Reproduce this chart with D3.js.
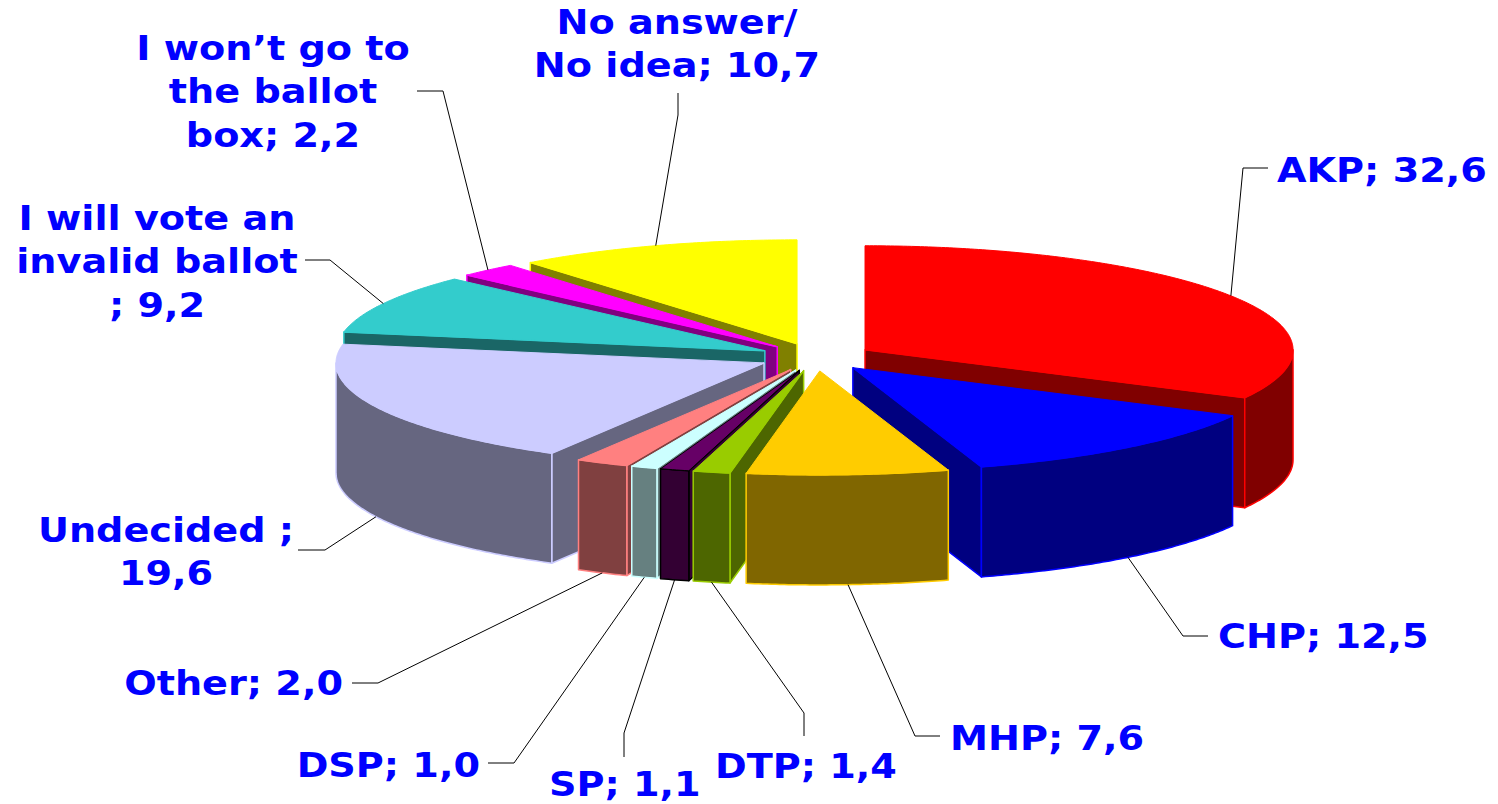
<!DOCTYPE html>
<html>
<head>
<meta charset="utf-8">
<script src="https://cdnjs.cloudflare.com/ajax/libs/d3/7.8.5/d3.min.js"></script>
<style>
    body { margin: 0; background: #ffffff; }
    text { font-family: "DejaVu Sans", Verdana, sans-serif; font-weight: bold; }
</style>
</head>
<body>
<div id="chart"></div>
<script>
// slice data, clockwise from 12 o'clock
var categories = ["AKP", "CHP", "MHP", "DTP", "SP", "DSP", "Other", "Undecided",
    "I will vote an invalid ballot", "I won’t go to the ballot box", "No answer/No idea"];
var values = [32.6, 12.5, 7.6, 1.4, 1.1, 1.0, 2.0, 19.6, 9.2, 2.2, 10.7];

// label text, {v} is replaced by the value with a decimal comma
var labelLines = [
    ["AKP; {v}"],
    ["CHP; {v}"],
    ["MHP; {v}"],
    ["DTP; {v}"],
    ["SP; {v}"],
    ["DSP; {v}"],
    ["Other; {v}"],
    ["Undecided ;", "{v}"],
    ["I will vote an", "invalid ballot", "; {v}"],
    ["I won’t go to", "the ballot", "box; {v}"],
    ["No answer/", "No idea; {v}"]
];

var topColors = ["#ff0000", "#0000ff", "#ffcc00", "#99cc00", "#660066", "#ccffff",
    "#ff8080", "#ccccff", "#33cccc", "#ff00ff", "#ffff00"];
var outlineColors = ["#ff0000", "#0000ff", "#ffcc00", "#99cc00", "#000000", "#ccffff",
    "#ff8080", "#ccccff", "#33cccc", "#ff00ff", "#ffff00"];

var width = 1498, height = 804;

// pie geometry (screen pixels)
var cx = 816, cy = 357;      // centre of the top face
var R = 428;                 // radius along x
var tilt = 0.243;            // y squash of the disc
var depth = 110;             // thickness
var explode = 0.134;         // explosion, in radius units

// where each label sits and the two fixed points of its leader line
var labelLayout = [
    { anchor: "start",  x: 1277, y: 182, leader: [[1268, 168], [1243, 168]] },
    { anchor: "start",  x: 1218, y: 648, leader: [[1208, 636], [1183, 636]] },
    { anchor: "start",  x: 950,  y: 750, leader: [[940, 736], [915, 736]] },
    { anchor: "start",  x: 715,  y: 778, leader: [[804, 736], [804, 713]] },
    { anchor: "start",  x: 549,  y: 796, leader: [[624, 757], [624, 733]] },
    { anchor: "end",    x: 480,  y: 777, leader: [[488, 763], [514, 763]] },
    { anchor: "end",    x: 343,  y: 695, leader: [[352, 683], [378, 683]] },
    { anchor: "middle", x: 166,  y: 542, leader: [[298, 550], [325, 550]] },
    { anchor: "middle", x: 157,  y: 230, leader: [[305, 260], [330, 260]] },
    { anchor: "middle", x: 273,  y: 60,  leader: [[417, 91], [443, 91]] },
    { anchor: "middle", x: 677,  y: 34,  leader: [[678, 93], [678, 115]] }
];
var lineHeight = 43.5;
var fontSize = 33.5;
var stretch = 1.14;

var svg = d3.select("#chart").append("svg")
    .attr("width", width)
    .attr("height", height)
    .style("background", "#ffffff");

var pie = d3.pie().sort(null).value(function(d) { return d; });
var slices = pie(values).map(function(s, i) {
    s.index = i;
    s.mid = (s.startAngle + s.endAngle) / 2;
    return s;
});

function project(a, r, mid, bottom) {
    var px = r * Math.sin(a) + explode * Math.sin(mid);
    var py = r * Math.cos(a) + explode * Math.cos(mid);
    return [cx + px * R, cy - py * R * tilt + (bottom ? depth : 0)];
}

function arcPoints(a0, a1, mid, bottom) {
    var n = Math.max(2, Math.ceil((a1 - a0) / 0.01));
    var pts = [];
    for (var k = 0; k <= n; k++) {
        pts.push(project(a0 + (a1 - a0) * k / n, 1, mid, bottom));
    }
    return pts;
}

function poly(pts) {
    return "M" + pts.map(function(p) { return p[0].toFixed(2) + "," + p[1].toFixed(2); }).join("L") + "Z";
}

function sideColor(c) {
    var rgb = d3.rgb(c);
    return d3.rgb(rgb.r / 2, rgb.g / 2, rgb.b / 2).formatHex();
}

// back slices first so front walls cover them
var order = slices.slice().sort(function(a, b) { return Math.cos(b.mid) - Math.cos(a.mid); });

var walls = svg.append("g").attr("class", "walls");
var tops = svg.append("g").attr("class", "tops");

order.forEach(function(s) {
    var i = s.index;
    var a0 = s.startAngle, a1 = s.endAngle, mid = s.mid;
    var dark = sideColor(topColors[i]);
    var g = walls.append("g");

    // radial walls facing the viewer
    if (Math.sin(a0) < -1e-6) {
        g.append("path")
            .attr("d", poly([project(0, 0, mid, false), project(a0, 1, mid, false),
                             project(a0, 1, mid, true), project(0, 0, mid, true)]))
            .attr("fill", dark).attr("stroke", outlineColors[i]).attr("stroke-width", 1.5)
            .attr("stroke-linejoin", "round");
    }
    if (Math.sin(a1) > 1e-6) {
        g.append("path")
            .attr("d", poly([project(0, 0, mid, false), project(a1, 1, mid, false),
                             project(a1, 1, mid, true), project(0, 0, mid, true)]))
            .attr("fill", dark).attr("stroke", outlineColors[i]).attr("stroke-width", 1.5)
            .attr("stroke-linejoin", "round");
    }

    // outer wall, only the front half of the rim shows
    var w0 = Math.max(a0, Math.PI / 2), w1 = Math.min(a1, 3 * Math.PI / 2);
    if (w1 > w0) {
        var pts = arcPoints(w0, w1, mid, false).concat(arcPoints(w0, w1, mid, true).reverse());
        g.append("path")
            .attr("d", poly(pts))
            .attr("fill", dark).attr("stroke", outlineColors[i]).attr("stroke-width", 1.5)
            .attr("stroke-linejoin", "round");
    }

    // top face
    tops.append("path")
        .attr("d", poly([project(0, 0, mid, false)].concat(arcPoints(a0, a1, mid, false))))
        .attr("fill", topColors[i])
        .attr("stroke", outlineColors[i])
        .attr("stroke-width", 1)
        .attr("stroke-linejoin", "round");
});

// leader lines end on the rim at the middle of each slice
var leaders = svg.append("g").attr("class", "leaders");
slices.forEach(function(s) {
    var lay = labelLayout[s.index];
    var front = Math.cos(s.mid) < 0;
    var end = project(s.mid, 1, s.mid, front);
    leaders.append("polyline")
        .attr("points", lay.leader.concat([end]).map(function(p) { return p.join(","); }).join(" "))
        .attr("fill", "none")
        .attr("stroke", "#000000")
        .attr("stroke-width", 1);
});

var fmt = d3.format(".1f");
var labels = svg.append("g").attr("class", "labels");
slices.forEach(function(s) {
    var lay = labelLayout[s.index];
    var v = fmt(values[s.index]).replace(".", ",");
    var t = labels.append("text")
        .attr("transform", "translate(" + lay.x + "," + lay.y + ") scale(" + stretch + ",1)")
        .attr("text-anchor", lay.anchor)
        .attr("font-size", fontSize)
        .attr("fill", "#0000ff");
    labelLines[s.index].forEach(function(line, k) {
        t.append("tspan")
            .attr("x", 0)
            .attr("dy", k === 0 ? 0 : lineHeight)
            .text(line.replace("{v}", v));
    });
});
</script>
</body>
</html>
